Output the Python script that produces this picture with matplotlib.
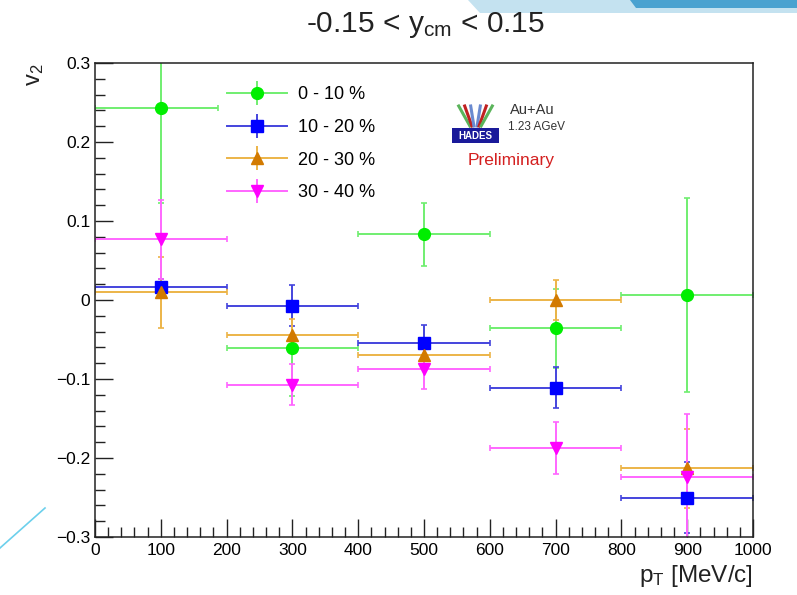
import numpy as np
import matplotlib

matplotlib.use("Agg")
import matplotlib.pyplot as plt
from matplotlib.patches import Rectangle, Polygon
from matplotlib.lines import Line2D

plt.rcParams["font.family"] = ["Liberation Sans", "DejaVu Sans"]
plt.rcParams["mathtext.fontset"] = "custom"
plt.rcParams["mathtext.rm"] = "Liberation Sans"
plt.rcParams["mathtext.it"] = "Liberation Sans"

# centrality classes
labels = ["0 - 10 %", "10 - 20 %", "20 - 30 %", "30 - 40 %"]
pt = [100, 300, 500, 700, 900]

# v2 values per centrality
v2_0_10 = [0.243, -0.061, 0.083, -0.036, 0.006]
v2_10_20 = [0.016, -0.007, -0.054, -0.111, -0.250]
v2_20_30 = [0.010, -0.044, -0.069, 0.000, -0.213]
v2_30_40 = [0.077, -0.107, -0.087, -0.187, -0.224]

# statistical errors
err_0_10 = [0.12, 0.06, 0.040, 0.050, 0.123]
err_10_20 = [0.010, 0.026, 0.022, 0.026, 0.045]
err_20_30 = [0.045, 0.020, 0.015, 0.025, 0.050]
err_30_40 = [0.050, 0.026, 0.026, 0.033, 0.080]

# bin half widths (0-10% first bin drawn narrower)
xerr_lo_0_10 = [100, 100, 100, 100, 100]
xerr_hi_0_10 = [87, 100, 100, 100, 100]
xerr_std = [100, 100, 100, 100, 100]

series = [
    (v2_0_10, err_0_10, [xerr_lo_0_10, xerr_hi_0_10], "o", "#00ee00", "#70ee70", 8.5),
    (v2_10_20, err_10_20, xerr_std, "s", "#0000ff", "#4444dd", 8),
    (v2_20_30, err_20_30, xerr_std, "^", "#d27a00", "#ecb448", 8),
    (v2_30_40, err_30_40, xerr_std, "v", "#ff00ff", "#ff66ff", 9),
]

fig = plt.figure(figsize=(7.97, 5.95), dpi=100)
ax = fig.add_axes([95 / 797, 58 / 595, 658 / 797, 474 / 595])

handles = []
for (y, yerr, xerr, mk, col, lcol, ms), lab in zip(series, labels):
    ax.errorbar(pt, y, yerr=yerr, xerr=xerr, fmt=mk, color=col, ecolor=lcol,
                elinewidth=1.4, capsize=2, capthick=1.2, markersize=ms,
                markeredgecolor=col)
    vbar = Line2D([], [], linestyle="none", marker="|", markersize=17,
                  markeredgewidth=1.4, color=lcol)
    hline = Line2D([], [], color=lcol, lw=1.4, marker=mk, markersize=ms,
                   markerfacecolor=col, markeredgecolor=col)
    handles.append((vbar, hline))

ax.set_xlim(0, 1000)
ax.set_ylim(-0.3, 0.3)
ax.set_xticks(np.arange(0, 1001, 100))
ax.set_xticks(np.arange(0, 1001, 20), minor=True)
ax.set_yticks(np.round(np.arange(-0.3, 0.31, 0.1), 2))
ax.set_yticks(np.round(np.arange(-0.3, 0.31, 0.02), 2), minor=True)
ax.set_yticklabels(["\u22120.3", "\u22120.2", "\u22120.1", "0", "0.1", "0.2", "0.3"])
ax.tick_params(which="both", direction="in", top=False, right=False,
               labelsize=12.5, width=1, color="#222222")
ax.tick_params(which="major", length=13)
ax.tick_params(which="minor", length=7)
ax.tick_params(axis="x", pad=4)
for s in ax.spines.values():
    s.set_linewidth(1.1)
    s.set_color("#222222")

fig.text(425 / 797, 1 - 25 / 595, r"-0.15 < y$_{\mathrm{cm}}$ < 0.15", ha="center",
         va="center", fontsize=21.5, color="#222222")
fig.text(35 / 797, 1 - 75 / 595, r"v$_{2}$", rotation=90, ha="center", va="center",
         fontsize=17, color="#222222")
fig.text(753 / 797, 1 - 576 / 595, r"p$_{\mathrm{T}}$ [MeV/c]", ha="right", va="center",
         fontsize=17.5, color="#222222")

ax.legend(handles=handles, labels=labels, loc="upper left",
          bbox_to_anchor=(213 / 797, 1 - 72 / 595),
          bbox_transform=fig.transFigure, frameon=False, fontsize=13,
          handlelength=3.3, labelspacing=0.86, handletextpad=0.6, borderpad=0.3)

# experiment logo
lx, ly = 452 / 797, 1 - 143 / 595
fig.patches.append(Rectangle((lx, ly), 47 / 797, 15 / 595, transform=fig.transFigure,
                             facecolor="#1a1a9a", edgecolor="none"))
fig.text(lx + 23.5 / 797, ly + 7.5 / 595, "HADES", color="white", ha="center", va="center",
         fontsize=7, fontweight="bold")
for dx, c in [(-14, "#5bb45b"), (-9, "#c02020"), (-4, "#6a8ad0"), (4, "#6a8ad0"),
              (9, "#c02020"), (14, "#5bb45b")]:
    fig.lines.append(Line2D([(lx * 797 + 23.5 + dx * 0.4) / 797, (lx * 797 + 23.5 + dx * 1.2) / 797],
                            [ly + 17 / 595, ly + 37 / 595], transform=fig.transFigure,
                            color=c, linewidth=2.2))
fig.text(510 / 797, 1 - 110 / 595, "Au+Au", fontsize=10.5, color="#333333", va="center")
fig.text(508 / 797, 1 - 127 / 595, "1.23 AGeV", fontsize=8.5, color="#333333", va="center")
fig.text(468 / 797, 1 - 161 / 595, "Preliminary", fontsize=12.5, color="#d42020", va="center")

# slide decorations
fig.patches.append(Polygon([(468 / 797, 1), (1, 1), (1, 1 - 13 / 595), (480 / 797, 1 - 13 / 595)],
                           closed=True, transform=fig.transFigure, facecolor="#c4e2f0",
                           edgecolor="none"))
fig.patches.append(Polygon([(630 / 797, 1), (1, 1), (1, 1 - 8 / 595), (636 / 797, 1 - 8 / 595)],
                           closed=True, transform=fig.transFigure, facecolor="#4aa2d0",
                           edgecolor="none"))
fig.lines.append(Line2D([0, 45 / 797], [1 - 548 / 595, 1 - 508 / 595], transform=fig.transFigure,
                        color="#6cd0ec", linewidth=1.2))

fig.savefig("out.png", dpi=100)
